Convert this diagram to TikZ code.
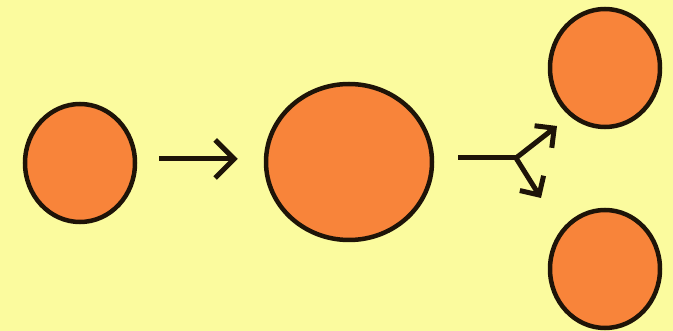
\documentclass[tikz,border=0pt]{standalone}
\usetikzlibrary{arrows.meta,shapes.geometric}
\definecolor{Paper}{HTML}{FBFB9E}
\definecolor{Cell}{HTML}{F8843A}
\definecolor{Rim}{HTML}{1E1408}
\tikzset{
  cell/.style={ellipse, draw=Rim, fill=Cell, line width=4.5pt, inner sep=0pt, minimum width=110pt, minimum height=118pt},
  bigcell/.style={cell, minimum width=166pt, minimum height=156pt},
  arrow/.style={-{Straight Barb[length=19pt,width=38pt]}, line width=5pt, draw=Rim},
  splitarrow/.style={-{Straight Barb[length=14pt,width=28pt]}, line width=5pt, draw=Rim}
}
\begin{document}
\begin{tikzpicture}[x=1pt,y=-1pt]
\fill[Paper] (0,0) rectangle (673,331);
\useasboundingbox (0,0) rectangle (673,331);
\node[cell] (parent) at (80,163) {};
\node[bigcell] (grown) at (349,162) {};
\node[cell] (upper) at (605,68) {};
\node[cell] (lower) at (605,269) {};
\draw[arrow, shorten <=22pt, shorten >=26pt] (parent.east |- 0,159) -- (grown.west |- 0,159);
\coordinate (fork) at (516,158);
\coordinate (uptip) at (557,126);
\coordinate (downtip) at (541,198);
\draw[line width=5pt, draw=Rim, shorten <=24pt] (grown.east |- 0,158) -- (fork);
\draw[splitarrow] (fork) -- (uptip);
\draw[splitarrow] (fork) -- (downtip);
\end{tikzpicture}
\end{document}
